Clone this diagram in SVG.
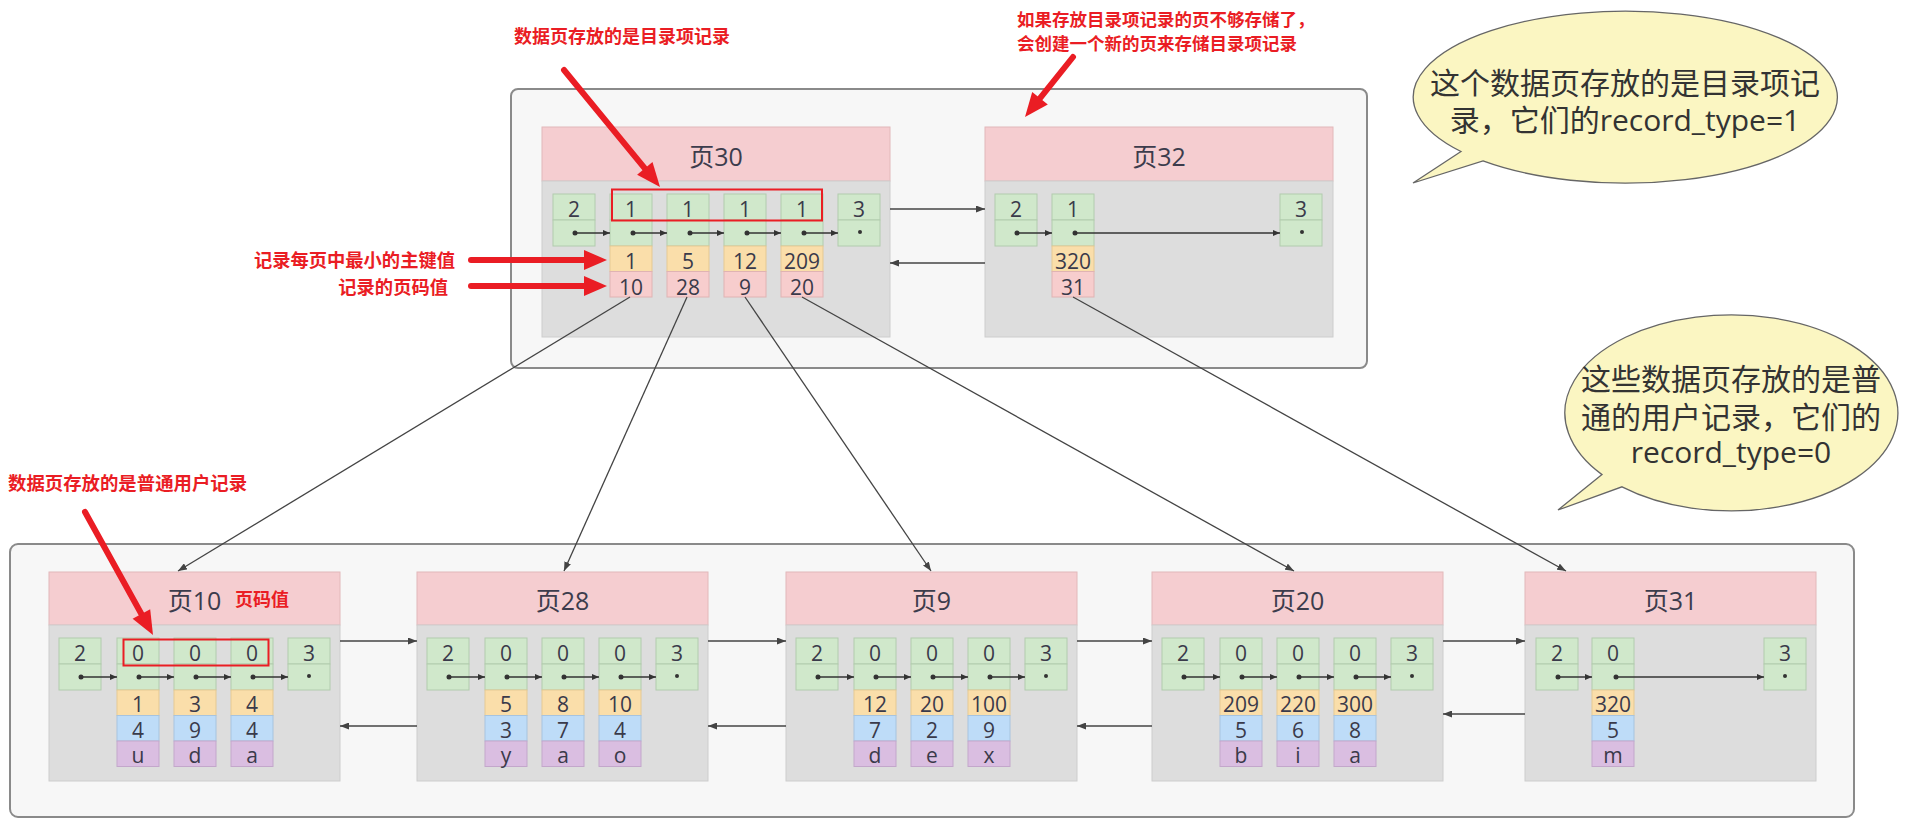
<svg xmlns="http://www.w3.org/2000/svg" width="1907" height="826" viewBox="0 0 1907 826">
<style>
.cont{fill:#f7f7f7;stroke:#8a8a8a;stroke-width:2}
.hdr{fill:#f5cdd0;stroke:#e2b8ba;stroke-width:1}
.body{fill:#dddddd;stroke:#cdcdcd;stroke-width:1}
.g{fill:#d0e8cb;stroke:#b2ccae;stroke-width:1}
.y{fill:#fadeaa;stroke:#e5c993;stroke-width:1}
.pk{fill:#f7cdcd;stroke:#e0b3b3;stroke-width:1}
.b{fill:#bedcf8;stroke:#a7c4df;stroke-width:1}
.pu{fill:#dabee1;stroke:#c3a7cb;stroke-width:1}
.t{font-family:"Open Sans","Noto Sans CJK SC",sans-serif;font-size:21px;fill:#3a3a4a;text-anchor:middle}
.title{font-family:"Open Sans","Noto Sans CJK SC",sans-serif;font-size:25px;fill:#3c3c4c;text-anchor:middle}
.red{font-family:"Noto Sans CJK SC",sans-serif;font-weight:bold;fill:#ea1d24}
.bub{fill:#fbf6c2;stroke:#666;stroke-width:1.3}
.bt{font-family:"Open Sans","Noto Sans CJK SC",sans-serif;font-size:30px;fill:#333;text-anchor:middle}
.dot{fill:#333}
.ia{stroke:#333;stroke-width:1.5;fill:none;marker-end:url(#ah)}
.conn{stroke:#444;stroke-width:1.3;fill:none;marker-end:url(#ah2)}
.rl{stroke:#ea1d24;stroke-width:6;fill:none;stroke-linecap:round}
.rh{fill:#ea1d24}
.rbox{fill:none;stroke:#ea1d24;stroke-width:2}
</style>
<defs>
<marker id="ah" markerUnits="userSpaceOnUse" markerWidth="7" markerHeight="6" refX="7" refY="3" orient="auto"><path d="M0,0 L7,3 L0,6 Z" fill="#333"/></marker>
<marker id="ah2" markerUnits="userSpaceOnUse" markerWidth="9" markerHeight="7" refX="9" refY="3.5" orient="auto"><path d="M0,0 L9,3.5 L0,7 Z" fill="#444"/></marker>
</defs>
<rect width="1907" height="826" fill="#ffffff"/>

<g id="upper-container"><rect class="cont" x="511" y="89" width="856" height="279" rx="7"/></g>
<g id="lower-container"><rect class="cont" x="10" y="544" width="1844" height="273" rx="8"/></g>

<g id="page30">
<rect class="hdr" x="542" y="127" width="348" height="54"/>
<rect class="body" x="542" y="181" width="348" height="156"/>
<text class="title" x="716" y="166">页30</text>
<rect class="g" x="553" y="194" width="42" height="26"/><rect class="g" x="553" y="220" width="42" height="26"/><text class="t" x="574" y="216.5">2</text>
<rect class="g" x="610" y="194" width="42" height="26"/><rect class="g" x="610" y="220" width="42" height="26"/><rect class="y" x="610" y="246" width="42" height="25.5"/><rect class="pk" x="610" y="271.5" width="42" height="25.5"/>
<text class="t" x="631" y="216.5">1</text><text class="t" x="631" y="268.5">1</text><text class="t" x="631" y="294.5">10</text>
<rect class="g" x="667" y="194" width="42" height="26"/><rect class="g" x="667" y="220" width="42" height="26"/><rect class="y" x="667" y="246" width="42" height="25.5"/><rect class="pk" x="667" y="271.5" width="42" height="25.5"/>
<text class="t" x="688" y="216.5">1</text><text class="t" x="688" y="268.5">5</text><text class="t" x="688" y="294.5">28</text>
<rect class="g" x="724" y="194" width="42" height="26"/><rect class="g" x="724" y="220" width="42" height="26"/><rect class="y" x="724" y="246" width="42" height="25.5"/><rect class="pk" x="724" y="271.5" width="42" height="25.5"/>
<text class="t" x="745" y="216.5">1</text><text class="t" x="745" y="268.5">12</text><text class="t" x="745" y="294.5">9</text>
<rect class="g" x="781" y="194" width="42" height="26"/><rect class="g" x="781" y="220" width="42" height="26"/><rect class="y" x="781" y="246" width="42" height="25.5"/><rect class="pk" x="781" y="271.5" width="42" height="25.5"/>
<text class="t" x="802" y="216.5">1</text><text class="t" x="802" y="268.5">209</text><text class="t" x="802" y="294.5">20</text>
<rect class="g" x="838" y="194" width="42" height="26"/><rect class="g" x="838" y="220" width="42" height="26"/><text class="t" x="859" y="216.5">3</text>
<circle class="dot" cx="575" cy="233" r="2.5"/><circle class="dot" cx="633" cy="233" r="2.5"/><circle class="dot" cx="690" cy="233" r="2.5"/><circle class="dot" cx="747" cy="233" r="2.5"/><circle class="dot" cx="804" cy="233" r="2.5"/><circle class="dot" cx="860" cy="232" r="2"/>
<line class="ia" x1="575" y1="233" x2="610" y2="233"/><line class="ia" x1="633" y1="233" x2="667" y2="233"/><line class="ia" x1="690" y1="233" x2="724" y2="233"/><line class="ia" x1="747" y1="233" x2="781" y2="233"/><line class="ia" x1="804" y1="233" x2="838" y2="233"/>
<rect class="rbox" x="612" y="189.5" width="210" height="31"/>
</g>

<g id="page32">
<rect class="hdr" x="985" y="127" width="348" height="54"/>
<rect class="body" x="985" y="181" width="348" height="156"/>
<text class="title" x="1159" y="166">页32</text>
<rect class="g" x="995" y="194" width="42" height="26"/><rect class="g" x="995" y="220" width="42" height="26"/><text class="t" x="1016" y="216.5">2</text>
<rect class="g" x="1052" y="194" width="42" height="26"/><rect class="g" x="1052" y="220" width="42" height="26"/><rect class="y" x="1052" y="246" width="42" height="25.5"/><rect class="pk" x="1052" y="271.5" width="42" height="25.5"/>
<text class="t" x="1073" y="216.5">1</text><text class="t" x="1073" y="268.5">320</text><text class="t" x="1073" y="294.5">31</text>
<rect class="g" x="1280" y="194" width="42" height="26"/><rect class="g" x="1280" y="220" width="42" height="26"/><text class="t" x="1301" y="216.5">3</text>
<circle class="dot" cx="1017" cy="233" r="2.5"/><circle class="dot" cx="1075" cy="233" r="2.5"/><circle class="dot" cx="1302" cy="232" r="2"/>
<line class="ia" x1="1017" y1="233" x2="1052" y2="233"/><line class="ia" x1="1075" y1="233" x2="1280" y2="233"/>
</g>

<g id="page10">
<rect class="hdr" x="49" y="572" width="291" height="53"/>
<rect class="body" x="49" y="625" width="291" height="156"/>
<text class="title" x="194.5" y="610">页10</text>
<text class="red" x="235" y="605.5" font-size="18">页码值</text>
<rect class="g" x="59" y="638" width="42" height="26"/><rect class="g" x="59" y="664" width="42" height="26"/><text class="t" x="80" y="661">2</text>
<rect class="g" x="117" y="638" width="42" height="26"/><rect class="g" x="117" y="664" width="42" height="26"/><rect class="y" x="117" y="690" width="42" height="25.5"/><rect class="b" x="117" y="715.5" width="42" height="25.5"/><rect class="pu" x="117" y="741" width="42" height="25.5"/>
<text class="t" x="138" y="661">0</text><text class="t" x="138" y="712">1</text><text class="t" x="138" y="738">4</text><text class="t" x="138" y="763">u</text>
<rect class="g" x="174" y="638" width="42" height="26"/><rect class="g" x="174" y="664" width="42" height="26"/><rect class="y" x="174" y="690" width="42" height="25.5"/><rect class="b" x="174" y="715.5" width="42" height="25.5"/><rect class="pu" x="174" y="741" width="42" height="25.5"/>
<text class="t" x="195" y="661">0</text><text class="t" x="195" y="712">3</text><text class="t" x="195" y="738">9</text><text class="t" x="195" y="763">d</text>
<rect class="g" x="231" y="638" width="42" height="26"/><rect class="g" x="231" y="664" width="42" height="26"/><rect class="y" x="231" y="690" width="42" height="25.5"/><rect class="b" x="231" y="715.5" width="42" height="25.5"/><rect class="pu" x="231" y="741" width="42" height="25.5"/>
<text class="t" x="252" y="661">0</text><text class="t" x="252" y="712">4</text><text class="t" x="252" y="738">4</text><text class="t" x="252" y="763">a</text>
<rect class="g" x="288" y="638" width="42" height="26"/><rect class="g" x="288" y="664" width="42" height="26"/><text class="t" x="309" y="661">3</text>
<circle class="dot" cx="81" cy="677" r="2.5"/><circle class="dot" cx="139" cy="677" r="2.5"/><circle class="dot" cx="196" cy="677" r="2.5"/><circle class="dot" cx="253" cy="677" r="2.5"/><circle class="dot" cx="309" cy="676" r="2"/>
<line class="ia" x1="81" y1="677" x2="117" y2="677"/><line class="ia" x1="139" y1="677" x2="174" y2="677"/><line class="ia" x1="196" y1="677" x2="231" y2="677"/><line class="ia" x1="253" y1="677" x2="288" y2="677"/>
<rect class="rbox" x="123.5" y="639.5" width="145" height="26"/>
</g>

<g id="page28">
<rect class="hdr" x="417" y="572" width="291" height="53"/>
<rect class="body" x="417" y="625" width="291" height="156"/>
<text class="title" x="562.5" y="610">页28</text>
<rect class="g" x="427" y="638" width="42" height="26"/><rect class="g" x="427" y="664" width="42" height="26"/><text class="t" x="448" y="661">2</text>
<rect class="g" x="485" y="638" width="42" height="26"/><rect class="g" x="485" y="664" width="42" height="26"/><rect class="y" x="485" y="690" width="42" height="25.5"/><rect class="b" x="485" y="715.5" width="42" height="25.5"/><rect class="pu" x="485" y="741" width="42" height="25.5"/>
<text class="t" x="506" y="661">0</text><text class="t" x="506" y="712">5</text><text class="t" x="506" y="738">3</text><text class="t" x="506" y="763">y</text>
<rect class="g" x="542" y="638" width="42" height="26"/><rect class="g" x="542" y="664" width="42" height="26"/><rect class="y" x="542" y="690" width="42" height="25.5"/><rect class="b" x="542" y="715.5" width="42" height="25.5"/><rect class="pu" x="542" y="741" width="42" height="25.5"/>
<text class="t" x="563" y="661">0</text><text class="t" x="563" y="712">8</text><text class="t" x="563" y="738">7</text><text class="t" x="563" y="763">a</text>
<rect class="g" x="599" y="638" width="42" height="26"/><rect class="g" x="599" y="664" width="42" height="26"/><rect class="y" x="599" y="690" width="42" height="25.5"/><rect class="b" x="599" y="715.5" width="42" height="25.5"/><rect class="pu" x="599" y="741" width="42" height="25.5"/>
<text class="t" x="620" y="661">0</text><text class="t" x="620" y="712">10</text><text class="t" x="620" y="738">4</text><text class="t" x="620" y="763">o</text>
<rect class="g" x="656" y="638" width="42" height="26"/><rect class="g" x="656" y="664" width="42" height="26"/><text class="t" x="677" y="661">3</text>
<circle class="dot" cx="449" cy="677" r="2.5"/><circle class="dot" cx="507" cy="677" r="2.5"/><circle class="dot" cx="564" cy="677" r="2.5"/><circle class="dot" cx="621" cy="677" r="2.5"/><circle class="dot" cx="677" cy="676" r="2"/>
<line class="ia" x1="449" y1="677" x2="485" y2="677"/><line class="ia" x1="507" y1="677" x2="542" y2="677"/><line class="ia" x1="564" y1="677" x2="599" y2="677"/><line class="ia" x1="621" y1="677" x2="656" y2="677"/>
</g>

<g id="page9">
<rect class="hdr" x="786" y="572" width="291" height="53"/>
<rect class="body" x="786" y="625" width="291" height="156"/>
<text class="title" x="931.5" y="610">页9</text>
<rect class="g" x="796" y="638" width="42" height="26"/><rect class="g" x="796" y="664" width="42" height="26"/><text class="t" x="817" y="661">2</text>
<rect class="g" x="854" y="638" width="42" height="26"/><rect class="g" x="854" y="664" width="42" height="26"/><rect class="y" x="854" y="690" width="42" height="25.5"/><rect class="b" x="854" y="715.5" width="42" height="25.5"/><rect class="pu" x="854" y="741" width="42" height="25.5"/>
<text class="t" x="875" y="661">0</text><text class="t" x="875" y="712">12</text><text class="t" x="875" y="738">7</text><text class="t" x="875" y="763">d</text>
<rect class="g" x="911" y="638" width="42" height="26"/><rect class="g" x="911" y="664" width="42" height="26"/><rect class="y" x="911" y="690" width="42" height="25.5"/><rect class="b" x="911" y="715.5" width="42" height="25.5"/><rect class="pu" x="911" y="741" width="42" height="25.5"/>
<text class="t" x="932" y="661">0</text><text class="t" x="932" y="712">20</text><text class="t" x="932" y="738">2</text><text class="t" x="932" y="763">e</text>
<rect class="g" x="968" y="638" width="42" height="26"/><rect class="g" x="968" y="664" width="42" height="26"/><rect class="y" x="968" y="690" width="42" height="25.5"/><rect class="b" x="968" y="715.5" width="42" height="25.5"/><rect class="pu" x="968" y="741" width="42" height="25.5"/>
<text class="t" x="989" y="661">0</text><text class="t" x="989" y="712">100</text><text class="t" x="989" y="738">9</text><text class="t" x="989" y="763">x</text>
<rect class="g" x="1025" y="638" width="42" height="26"/><rect class="g" x="1025" y="664" width="42" height="26"/><text class="t" x="1046" y="661">3</text>
<circle class="dot" cx="818" cy="677" r="2.5"/><circle class="dot" cx="876" cy="677" r="2.5"/><circle class="dot" cx="933" cy="677" r="2.5"/><circle class="dot" cx="990" cy="677" r="2.5"/><circle class="dot" cx="1046" cy="676" r="2"/>
<line class="ia" x1="818" y1="677" x2="854" y2="677"/><line class="ia" x1="876" y1="677" x2="911" y2="677"/><line class="ia" x1="933" y1="677" x2="968" y2="677"/><line class="ia" x1="990" y1="677" x2="1025" y2="677"/>
</g>

<g id="page20">
<rect class="hdr" x="1152" y="572" width="291" height="53"/>
<rect class="body" x="1152" y="625" width="291" height="156"/>
<text class="title" x="1297.5" y="610">页20</text>
<rect class="g" x="1162" y="638" width="42" height="26"/><rect class="g" x="1162" y="664" width="42" height="26"/><text class="t" x="1183" y="661">2</text>
<rect class="g" x="1220" y="638" width="42" height="26"/><rect class="g" x="1220" y="664" width="42" height="26"/><rect class="y" x="1220" y="690" width="42" height="25.5"/><rect class="b" x="1220" y="715.5" width="42" height="25.5"/><rect class="pu" x="1220" y="741" width="42" height="25.5"/>
<text class="t" x="1241" y="661">0</text><text class="t" x="1241" y="712">209</text><text class="t" x="1241" y="738">5</text><text class="t" x="1241" y="763">b</text>
<rect class="g" x="1277" y="638" width="42" height="26"/><rect class="g" x="1277" y="664" width="42" height="26"/><rect class="y" x="1277" y="690" width="42" height="25.5"/><rect class="b" x="1277" y="715.5" width="42" height="25.5"/><rect class="pu" x="1277" y="741" width="42" height="25.5"/>
<text class="t" x="1298" y="661">0</text><text class="t" x="1298" y="712">220</text><text class="t" x="1298" y="738">6</text><text class="t" x="1298" y="763">i</text>
<rect class="g" x="1334" y="638" width="42" height="26"/><rect class="g" x="1334" y="664" width="42" height="26"/><rect class="y" x="1334" y="690" width="42" height="25.5"/><rect class="b" x="1334" y="715.5" width="42" height="25.5"/><rect class="pu" x="1334" y="741" width="42" height="25.5"/>
<text class="t" x="1355" y="661">0</text><text class="t" x="1355" y="712">300</text><text class="t" x="1355" y="738">8</text><text class="t" x="1355" y="763">a</text>
<rect class="g" x="1391" y="638" width="42" height="26"/><rect class="g" x="1391" y="664" width="42" height="26"/><text class="t" x="1412" y="661">3</text>
<circle class="dot" cx="1184" cy="677" r="2.5"/><circle class="dot" cx="1242" cy="677" r="2.5"/><circle class="dot" cx="1299" cy="677" r="2.5"/><circle class="dot" cx="1356" cy="677" r="2.5"/><circle class="dot" cx="1412" cy="676" r="2"/>
<line class="ia" x1="1184" y1="677" x2="1220" y2="677"/><line class="ia" x1="1242" y1="677" x2="1277" y2="677"/><line class="ia" x1="1299" y1="677" x2="1334" y2="677"/><line class="ia" x1="1356" y1="677" x2="1391" y2="677"/>
</g>

<g id="page31">
<rect class="hdr" x="1525" y="572" width="291" height="53"/>
<rect class="body" x="1525" y="625" width="291" height="156"/>
<text class="title" x="1670.5" y="610">页31</text>
<rect class="g" x="1536" y="638" width="42" height="26"/><rect class="g" x="1536" y="664" width="42" height="26"/><text class="t" x="1557" y="661">2</text>
<rect class="g" x="1592" y="638" width="42" height="26"/><rect class="g" x="1592" y="664" width="42" height="26"/><rect class="y" x="1592" y="690" width="42" height="25.5"/><rect class="b" x="1592" y="715.5" width="42" height="25.5"/><rect class="pu" x="1592" y="741" width="42" height="25.5"/>
<text class="t" x="1613" y="661">0</text><text class="t" x="1613" y="712">320</text><text class="t" x="1613" y="738">5</text><text class="t" x="1613" y="763">m</text>
<rect class="g" x="1764" y="638" width="42" height="26"/><rect class="g" x="1764" y="664" width="42" height="26"/><text class="t" x="1785" y="661">3</text>
<circle class="dot" cx="1558" cy="677" r="2.5"/><circle class="dot" cx="1616" cy="677" r="2.5"/><circle class="dot" cx="1785" cy="676" r="2"/>
<line class="ia" x1="1558" y1="677" x2="1592" y2="677"/><line class="ia" x1="1616" y1="677" x2="1764" y2="677"/>
</g>

<g id="connectors">
<line class="conn" x1="890" y1="209" x2="985" y2="209"/>
<line class="conn" x1="985" y1="263" x2="890" y2="263"/>
<line class="conn" x1="630" y1="297" x2="178" y2="571"/>
<line class="conn" x1="687" y1="297" x2="564" y2="571"/>
<line class="conn" x1="745" y1="297" x2="931" y2="571"/>
<line class="conn" x1="802" y1="297" x2="1294" y2="571"/>
<line class="conn" x1="1073" y1="297" x2="1566" y2="571"/>
<line class="conn" x1="340" y1="641" x2="417" y2="641"/>
<line class="conn" x1="417" y1="726" x2="340" y2="726"/>
<line class="conn" x1="708" y1="641" x2="786" y2="641"/>
<line class="conn" x1="786" y1="726" x2="708" y2="726"/>
<line class="conn" x1="1077" y1="641" x2="1152" y2="641"/>
<line class="conn" x1="1152" y1="726" x2="1077" y2="726"/>
<line class="conn" x1="1443" y1="641" x2="1525" y2="641"/>
<line class="conn" x1="1525" y1="714" x2="1443" y2="714"/>
</g>

<g id="bubble1">
<path class="bub" d="M1461,151.5 L1413,183 L1483,160.9 A212,86 0 1 0 1461,151.5 Z"/>
<text class="bt" x="1625" y="94">这个数据页存放的是目录项记</text>
<text class="bt" x="1625" y="131">录，它们的record_type=1</text>
</g>

<g id="bubble2">
<path class="bub" d="M1602,474.6 L1558,510 L1622,486.8 A166.5,98 0 1 0 1602,474.6 Z"/>
<text class="bt" x="1731" y="390">这些数据页存放的是普</text>
<text class="bt" x="1731" y="428">通的用户记录，它们的</text>
<text class="bt" x="1731" y="463">record_type=0</text>
</g>

<g id="annotation-directory">
<text class="red" x="514" y="43" font-size="18">数据页存放的是目录项记录</text>
<line class="rl" x1="564" y1="70" x2="652.4" y2="177.7"/>
<polygon class="rh" points="660,187 637.1,174.7 652.5,162.1"/>
</g>

<g id="annotation-new-page">
<text class="red" x="1017" y="25.5" font-size="17.5">如果存放目录项记录的页不够存储了，</text>
<text class="red" x="1017" y="49.5" font-size="17.5">会创建一个新的页来存储目录项记录</text>
<line class="rl" x1="1073" y1="57" x2="1032.5" y2="107.6"/>
<polygon class="rh" points="1025,117 1032.2,92 1047.8,104.5"/>
</g>

<g id="annotation-min-key">
<text class="red" x="455" y="266.5" font-size="18.3" text-anchor="end">记录每页中最小的主键值</text>
<line class="rl" x1="471" y1="260" x2="595" y2="260"/>
<polygon class="rh" points="607,260 584,250 584,270"/>
</g>

<g id="annotation-page-no">
<text class="red" x="448" y="293.5" font-size="18.3" text-anchor="end">记录的页码值</text>
<line class="rl" x1="471" y1="286" x2="595" y2="286"/>
<polygon class="rh" points="607,286 584,276 584,296"/>
</g>

<g id="annotation-user">
<text class="red" x="8" y="489.5" font-size="18.4">数据页存放的是普通用户记录</text>
<line class="rl" x1="85" y1="512" x2="147.2" y2="624.5"/>
<polygon class="rh" points="153,635 132.6,618.8 150.2,609.2"/>
</g>
</svg>
